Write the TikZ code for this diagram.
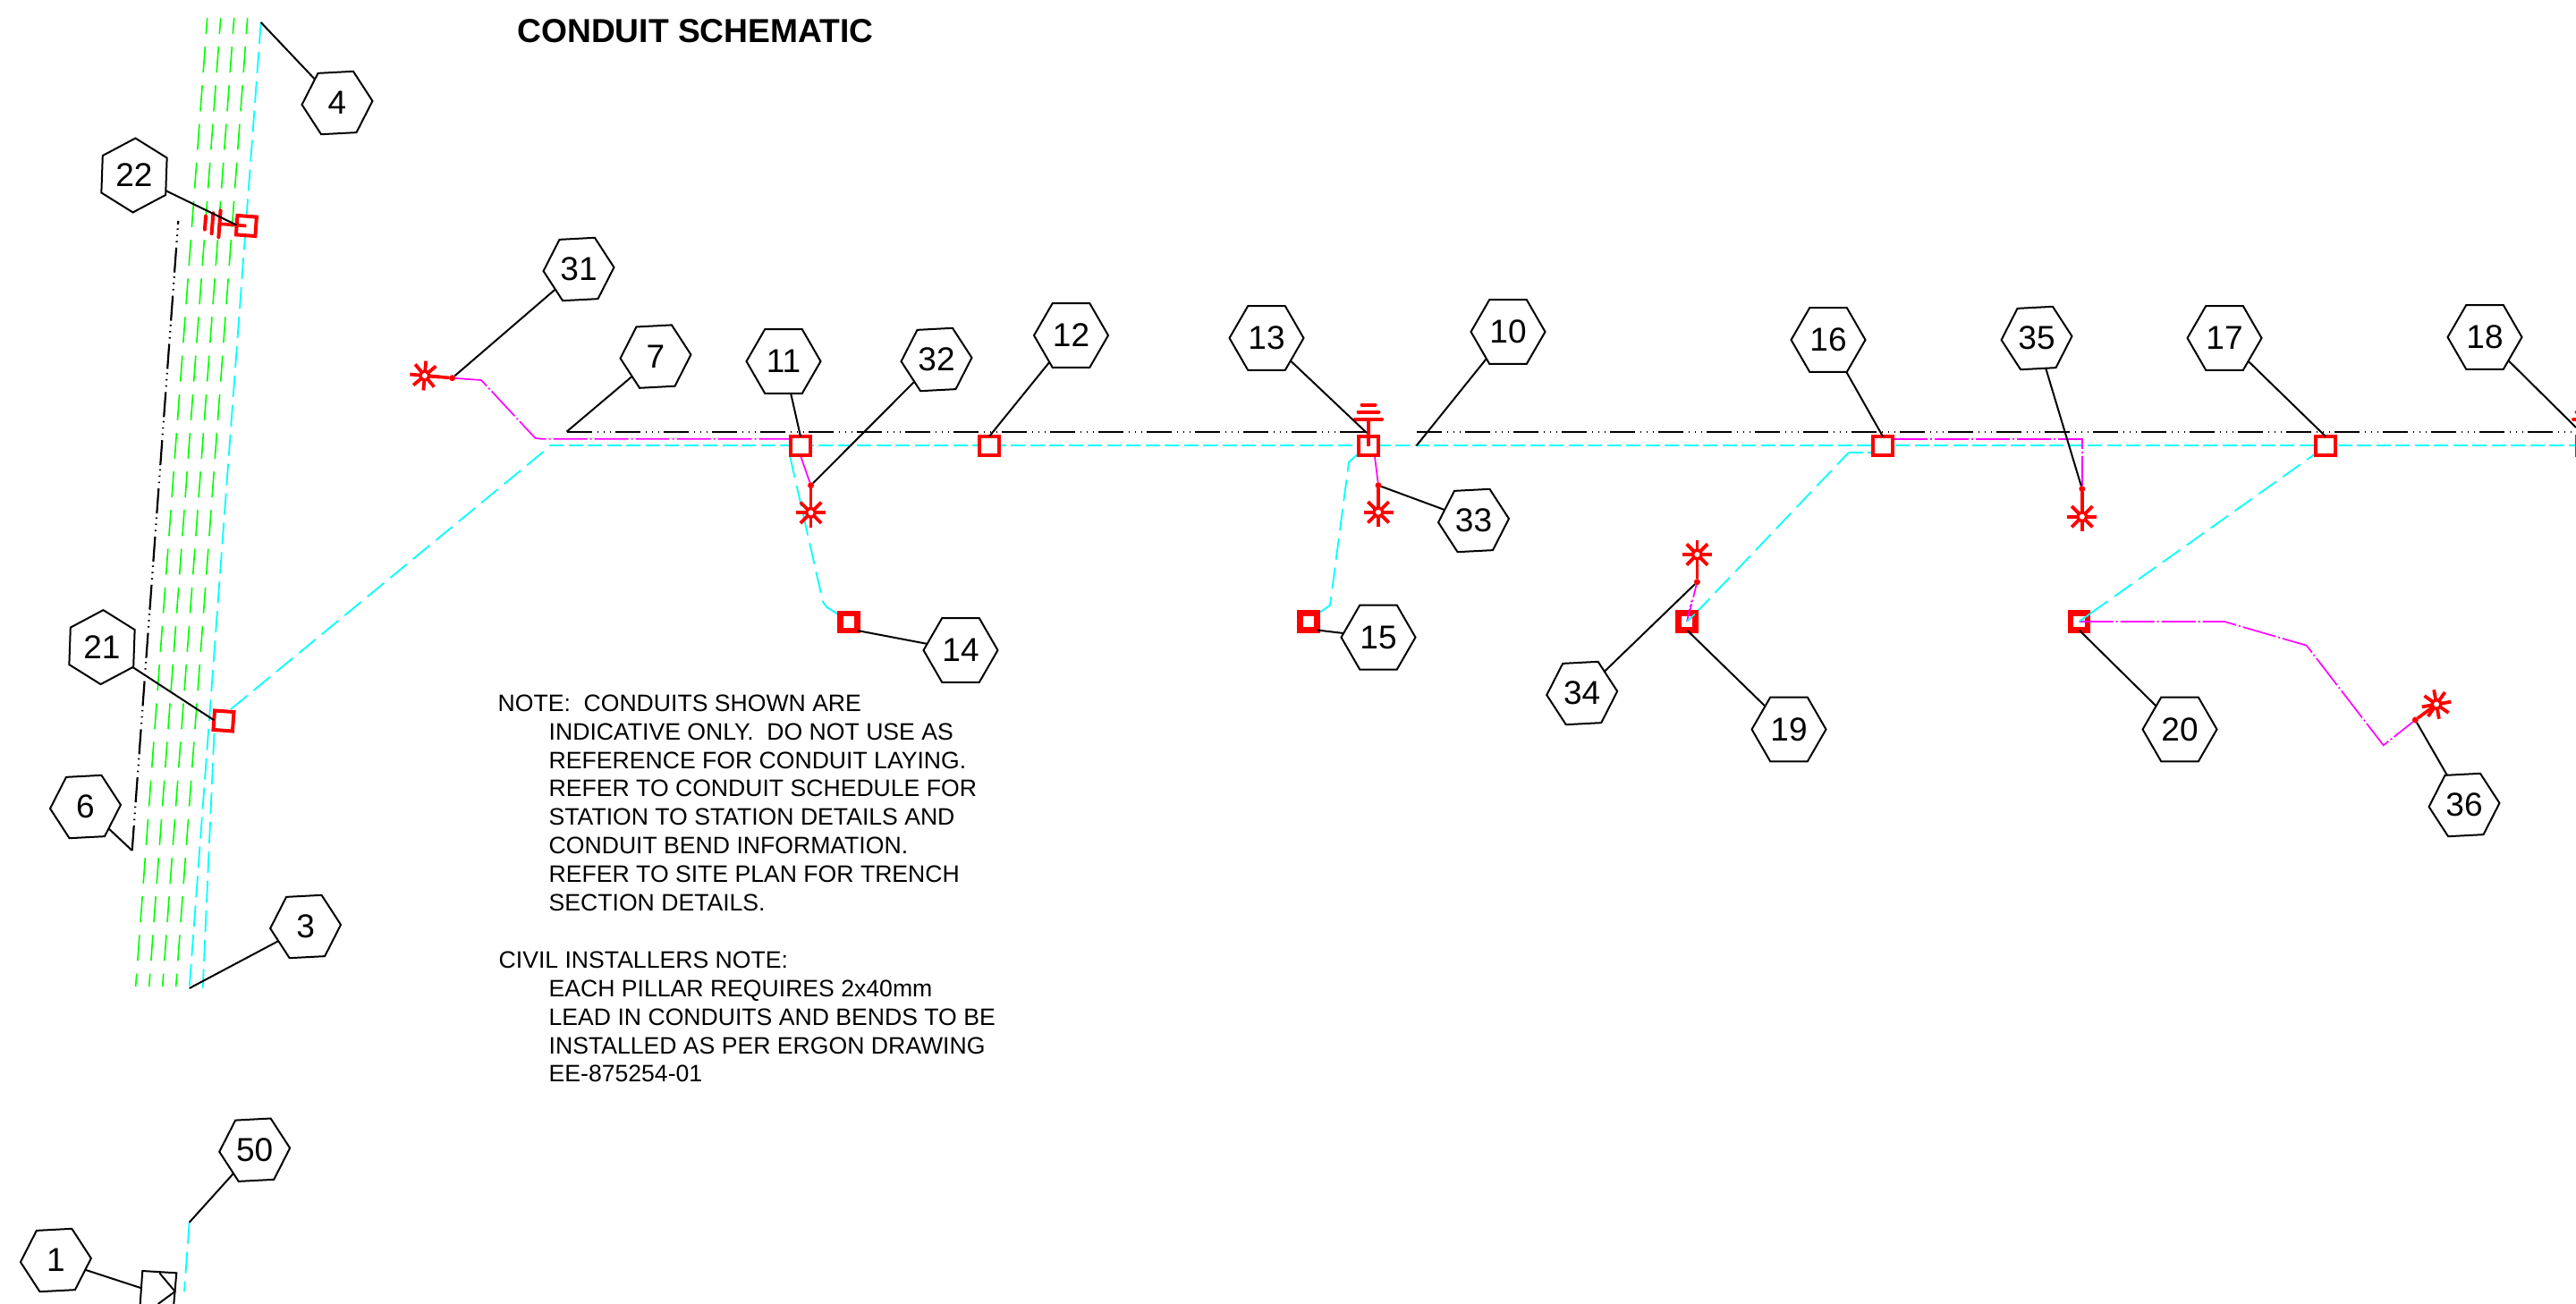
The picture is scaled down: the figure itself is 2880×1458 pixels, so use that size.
\documentclass[tikz,border=0pt]{standalone}
\usepackage{fontspec}
\setmainfont{Liberation Sans}
\usetikzlibrary{shapes.geometric}
\definecolor{cgreen}{RGB}{0,255,0}
\definecolor{ccyan}{RGB}{0,255,255}
\definecolor{cmag}{RGB}{255,0,255}
\definecolor{cred}{RGB}{255,0,0}
\tikzset{
  hexn/.style={regular polygon,regular polygon sides=6,draw=black,fill=white,line width=2pt,
    minimum size=83pt,inner sep=0pt,outer sep=0pt,shape border rotate=#1,
    font=\fontsize{37}{37}\selectfont},
  hexn/.default=0,
  hext/.style={hexn=3,minimum size=79pt},
  leader/.style={draw=black,line width=2pt},
  conduit/.style={draw=ccyan,line width=1.8pt,dash pattern=on 24pt off 9pt},
  conduith/.style={draw=ccyan,line width=2pt,dash pattern=on 16pt off 5.5pt},
  greenl/.style={draw=cgreen,line width=1.6pt,dash pattern=on 29pt off 14.3pt,dash phase=11pt},
  phantom/.style={draw=black,line width=2.2pt,dash pattern=on 28pt off 6pt on 1.5pt off 5.5pt on 1.5pt off 5.5pt on 1.5pt off 4.5pt},
  magl/.style={draw=cmag,line width=1.7pt,dash pattern=on 38pt off 3pt on 2pt off 3pt},
  pitbox/.style={rectangle,draw=cred,fill=white,line width=4pt,minimum size=21.5pt,inner sep=0pt,outer sep=0pt},
  pillarbox/.style={rectangle,draw=cred,fill=white,line width=6.5pt,minimum size=19pt,inner sep=0pt,outer sep=0pt},
  reddot/.style={circle,fill=cred,minimum size=7pt,inner sep=0pt,outer sep=0pt},
  stemline/.style={draw=cred,line width=3.6pt},
  sunburst/.pic={
    \foreach \a in {0,45,...,315}{\draw[cred,line width=3.8pt] (\a:5pt) -- (\a:16.5pt);}
    \draw[cred,fill=white,line width=3.5pt] (0,0) circle (5pt);
  },
  cap/.pic={
    \draw[cred,line width=3.6pt] (0,0) -- (0,-30);
    \draw[cred,line width=4pt,line cap=round] (-15,-30) -- (15,-30);
    \draw[cred,line width=4pt,line cap=round] (-11.5,-38) -- (11.5,-38);
    \draw[cred,line width=4pt,line cap=round] (-7.5,-46) -- (7.5,-46);
  },
}
\begin{document}
\begin{tikzpicture}[x=1pt,y=-1pt]
\path[use as bounding box,clip] (0,0) rectangle (2880,1458);

% ---- coordinates
\coordinate (s31) at (474.8,420);
\coordinate (s32) at (906.5,573.3);
\coordinate (s33) at (1541,572.7);
\coordinate (s34) at (1897.4,620);
\coordinate (s35) at (2327.8,577.7);
\coordinate (s36) at (2724,787.5);
\coordinate (endfour) at (291.7,25);
\coordinate (endseven) at (633.5,482.7);
\coordinate (endten) at (1583.6,498.3);
\coordinate (endthirteen) at (1528,484);
\coordinate (endeighteen) at (2880,478);
\coordinate (endsix) at (147.7,951);
\coordinate (endthree) at (211.7,1105);
\coordinate (endfifty) at (211.7,1366.7);
\coordinate (endone) at (157.3,1440);

% ---- green trench lines
\draw[greenl] (231.7,20) -- (151.7,1103);
\draw[greenl] (246.7,20) -- (166.7,1103);
\draw[greenl] (261.7,20) -- (181.7,1103);
\draw[greenl] (276.7,20) -- (196.7,1103);

\path (250,806) coordinate (p21) (275.4,252.5) coordinate (p22);

% ---- cyan conduits
\draw[conduit] (endfour) -- (endthree);
\draw[conduit] (239.5,820) -- (226.7,1105);
\draw[conduit] (258,793) -- (610,503);
\draw[conduith] (614,498.3) -- (2880,498.3);
\draw[conduit] (883.3,510.7) -- (920,673) -- (924.4,679) -- (937.8,687.3);
\draw[conduit] (1517.8,508) -- (1508,516.7) -- (1487,676.7) -- (1473.8,686);
\draw[conduit] (1894.7,686.7) -- (2066.8,506);
\draw[conduith] (2066.8,506) -- (2092,506);
\draw[conduit] (2337,686) -- (2587.6,508);
\draw[conduit] (endfifty) -- (206,1444);

% ---- black phantom lines
\draw[phantom] (endseven) -- (endthirteen |- endseven);
\draw[phantom] (endten |- endseven) -- (2880,482.7);
\draw[phantom] (endsix) -- (199.3,247);

% ---- stars and their dots
\node[reddot] (d31) at (505.6,422.7) {};
\node[reddot] (d32) at (906.5,542.7) {};
\node[reddot] (d33) at (1541,542.7) {};
\node[reddot] (d34) at (1897.4,650.7) {};
\node[reddot] (d35) at (2327.8,546.7) {};
\node[reddot] (d36) at (2700.3,805) {};

% ---- magenta conduits
\draw[magl] (d31) -- (538,425) -- (598.5,490) -- (605,490.7) -- (885,490.7);
\draw[magl] (895.4,510.7) -- (d32);
\draw[magl] (1537,510.7) -- (d33);
\draw[magl,dash pattern=on 14pt off 3pt on 2pt off 3pt] (d34) -- (1886.3,695);
\draw[magl] (2117,490.7) -- (2327.8,490.7) -- (d35);

% ---- boxes
\node[pitbox,rotate=-4.2] (b21) at (p21) {};
\node[pitbox,rotate=-4.2] (b22) at (p22) {};
\node[pitbox] (b11) at (895,498.7) {};
\node[pitbox] (b12) at (1106,498.7) {};
\node[pitbox] (b13) at (1530,498.5) {};
\node[pitbox] (b16) at (2105,498.7) {};
\node[pitbox] (b17) at (2600,498.7) {};
\node[pitbox] (b18) at (2892,498.7) {};
\node[pillarbox] (b14) at (949,695.5) {};
\node[pillarbox] (b15) at (1463,695) {};
\node[pillarbox] (b19) at (1886,695) {};
\node[pillarbox] (b20) at (2324.5,695) {};

% ---- lines entering the pillar boxes
\draw[magl,dash pattern=on 14pt off 3pt on 2pt off 3pt] (b19.center) -- (1891,672);
\draw[conduit] (b19.center) -- (1894.7,686.7);
\draw[magl] (b20.center) -- (2486.8,695) -- (2578.7,721.7) -- (2664.7,833.3) -- (d36);
\draw[conduit] (b20.center) -- (2337,686);

% ---- caps
\pic[rotate=85.8] at (b22) {cap};
\pic at (b13) {cap};
\pic at (b18) {cap};

% ---- stems and stars
\draw[stemline] (s31) -- (d31);
\draw[stemline] (s32) -- (d32);
\draw[stemline] (s33) -- (d33);
\draw[stemline] (s34) -- (d34);
\draw[stemline] (s35) -- (d35);
\draw[stemline] (s36) -- (d36);
\pic[rotate=-5] at (s31) {sunburst};
\pic at (s32) {sunburst};
\pic at (s33) {sunburst};
\pic at (s34) {sunburst};
\pic at (s35) {sunburst};
\pic[rotate=10] at (s36) {sunburst};

% ---- hexagon tags
\node[hext] (h4) at (377,115) {4};
\node[hexn=28] (h22) at (150,196) {22};
\node[hext] (h31) at (647,301) {31};
\node[hext] (h7) at (733,398.6) {7};
\node[hexn=0] (h11) at (876,404) {11};
\node[hext] (h32) at (1047,402) {32};
\node[hexn=0] (h12) at (1197.5,375) {12};
\node[hexn=0] (h13) at (1416,378) {13};
\node[hexn=0] (h10) at (1686,371) {10};
\node[hexn=0] (h16) at (2044,380) {16};
\node[hext] (h35) at (2277,378) {35};
\node[hexn=0] (h17) at (2487,378) {17};
\node[hexn=0] (h18) at (2778,377) {18};
\node[hexn=28] (h21) at (114,723.6) {21};
\node[hext] (h6) at (95.5,902) {6};
\node[hext] (h3) at (341.6,1036) {3};
\node[hext] (h50) at (284.7,1285.7) {50};
\node[hext] (h1) at (62.4,1409) {1};
\node[hexn=0] (h14) at (1074,727) {14};
\node[hexn=0] (h15) at (1541,712.6) {15};
\node[hext] (h33) at (1647.5,582) {33};
\node[hext] (h34) at (1768.7,775) {34};
\node[hexn=0] (h19) at (2000,815.5) {19};
\node[hexn=0] (h20) at (2437,815.5) {20};
\node[hext] (h36) at (2755,900) {36};

% ---- leaders
\draw[leader] (h4) -- (endfour);
\draw[leader] (h22) -- (b22.west);
\draw[leader] (h31) -- (d31);
\draw[leader] (h7) -- (endseven);
\draw[leader] (h11) -- (b11.north);
\draw[leader] (h32) -- (d32);
\draw[leader] (h12) -- (b12.north);
\draw[leader] (h13) -- (endthirteen);
\draw[leader] (h10) -- (endten);
\draw[leader] (h16) -- (b16.north);
\draw[leader] (h35) -- (d35);
\draw[leader] (h17) -- (b17.north);
\draw[leader] (h18) -- (endeighteen);
\draw[leader] (h21) -- (b21.west);
\draw[leader] (h6) -- (endsix);
\draw[leader] (h3) -- (endthree);
\draw[leader] (h50) -- (endfifty);
\draw[leader] (h1) -- (endone);
\draw[leader] (h14) -- (b14.south east);
\draw[leader] (h15) -- (b15.south east);
\draw[leader] (h33) -- (d33);
\draw[leader] (h34) -- (d34);
\draw[leader] (h19) -- (b19.south);
\draw[leader] (h20) -- (b20.south);
\draw[leader] (h36) -- (d36);

% ---- pillar symbol at bottom left
\draw[leader] (156.7,1458) -- (159.3,1421) -- (197.3,1423.3) -- (194.3,1458);
\draw[leader] (178.3,1423.3) -- (195.7,1444) -- (176.7,1458);

% ---- text
\node[anchor=base,font=\bfseries\fontsize{37.2}{37.2}\selectfont] (title) at (777.5,48) {CONDUIT SCHEMATIC};
\node[anchor=north west,align=left,inner sep=0pt,font=\fontsize{26.6}{31.9}\selectfont] (notes) at (556.5,776.5)
{NOTE:\hspace{0.55em}CONDUITS SHOWN ARE\\
\hspace*{57pt}INDICATIVE ONLY.\hspace{0.55em}DO NOT USE AS\\
\hspace*{57pt}REFERENCE FOR CONDUIT LAYING.\\
\hspace*{57pt}REFER TO CONDUIT SCHEDULE FOR\\
\hspace*{57pt}STATION TO STATION DETAILS AND\\
\hspace*{57pt}CONDUIT BEND INFORMATION.\\
\hspace*{57pt}REFER TO SITE PLAN FOR TRENCH\\
\hspace*{57pt}SECTION DETAILS.\\
\mbox{}\\
\hspace*{1pt}CIVIL INSTALLERS NOTE:\\
\hspace*{57pt}EACH PILLAR REQUIRES 2x40mm\\
\hspace*{57pt}LEAD IN CONDUITS AND BENDS TO BE\\
\hspace*{57pt}INSTALLED AS PER ERGON DRAWING\\
\hspace*{57pt}EE-875254-01};
\end{tikzpicture}
\end{document}
